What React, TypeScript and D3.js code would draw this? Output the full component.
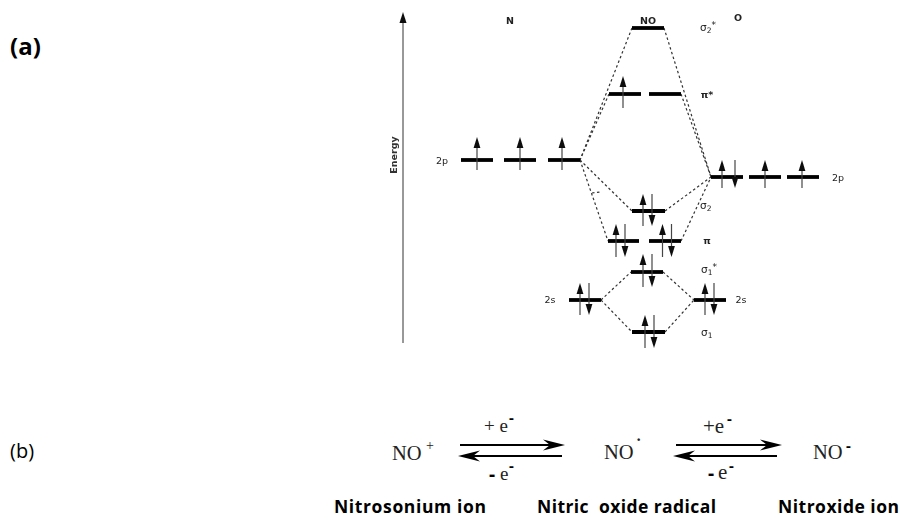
import React from "react";
import * as d3 from "d3";

// Orbital levels: centre column, energy, occupancy
const levelNames = ["N2p1","N2p2","N2p3","sigma2star","piStar1","piStar2","O2p1","O2p2","O2p3","sigma2","pi1","pi2","sigma1star","N2s","O2s","sigma1"];
const levelColumns = [477,520,564,648,625,665,727,765,803,648.5,623.5,665,647,585,710,648.5];
const levelEnergies = [190,190,190,322,256,256,173,173,173,139,109,109,78,50,50,18];
const levelWidths = [32,32,32,32,32,32,32,32,32,33,31,32,32,32,32,33];
const upColumns = [477,520,562,null,623,null,722,765,802,643,616,662.5,643,580,705,645];
const downColumns = [null,null,null,null,null,null,735,null,null,652,625,671.5,652,589,714,654];
const spanTop = [213,213,213,0,274,0,190,190,190,156,126,126,96,67,67,35];
const spanBottom = [180,180,180,0,242,0,162,162,162,124,93,93,63,35,35,2];

// Correlation lines [x1, energy1, x2, energy2]
const correlationLines = [
  [632,322,580,190],[664,322,711,173],[609,256,580,190],[681,256,711,173],
  [580,190,632,139],[665,139,711,173],[580,190,608,109],[681,109,711,173],
  [592,157,600,158],[601,50,631,78],[663,78,694,50],[601,50,632,18],[665,18,694,50],
];

const columnLabels = [
  ["N",510,330,"700"],["NO",648,330,"700"],["O",738,333,"700"],
  ["2p",442,190,"400"],["2p",838,173,"400"],["2s",550,51,"400"],["2s",741,51,"400"],
  ["π*",707,256,"700"],["π",707,110,"700"],
];
const sigmaLabels = [["σ","2","*",700,322],["σ","2","",700,144],["σ","1","*",701,80],["σ","1","",701,17]];

const equilibriumSpans = [[460,565,458,562],[676,782,673,777]];
const speciesNames = ["Nitrosonium ion","Nitric  oxide radical","Nitroxide ion"];
const speciesStarts = [334,537,778];
const speciesLengths = [152,179,121];

const x = d3.scaleLinear().domain([0,900]).range([0,900]);
const y = d3.scaleLinear().domain([0,350]).range([350,0]);
const INK = "#111";

export default function App() {
  const line = d3.line();
  const ah = (px:number, tip:number, dir:number, hw=3.5, h=11) =>
    line([[x(px),tip],[x(px)+hw,tip+dir*h],[x(px)-hw,tip+dir*h]])+"Z";
  const barb = (tipX:number, py:number, dir:number) =>
    `M${tipX},${py} L${tipX-dir*22},${py-5.5} L${tipX-dir*15},${py} L${tipX-dir*22},${py+5.5}Z`;
  const dia = "'DejaVu Sans', sans-serif";
  const serif = "'Liberation Serif', serif";
  const supFont = "'Open Sans', sans-serif";
  return (
    <svg width={900} height={520} viewBox="0 0 900 520" style={{position:"absolute",left:0,top:0,background:"#fff"}}>
      <defs>
        <filter id="soft" x="380" y="0" width="500" height="360" filterUnits="userSpaceOnUse">
          <feGaussianBlur stdDeviation="0.55"/>
        </filter>
      </defs>
      <text x={10} y={55} fontFamily="'Open Sans', sans-serif" fontWeight={700} fontSize={24} fill="#000">(a)</text>
      <text x={10} y={458} fontFamily="'Open Sans', sans-serif" fontSize={20} fill="#000">(b)</text>

      <g filter="url(#soft)">
        <line x1={x(403)} x2={x(403)} y1={y(7)} y2={y(330)} stroke="#555" strokeWidth={1.2}/>
        <path d={ah(403,12,1,3.5,11)} fill={INK}/>
        <text transform={`translate(397,${y(195)}) rotate(-90)`} textAnchor="middle" fontFamily={dia} fontSize={9.5} fontWeight={700} fill="#333">Energy</text>

        {correlationLines.map((c,i)=>(
          <line key={i} x1={x(c[0])} y1={y(c[1])} x2={x(c[2])} y2={y(c[3])} stroke="#333" strokeWidth={1.2} strokeDasharray="2.5 2.5"/>
        ))}
        {levelNames.map((n,i)=>(
          <line key={n} x1={x(levelColumns[i]-levelWidths[i]/2)} x2={x(levelColumns[i]+levelWidths[i]/2)} y1={y(levelEnergies[i])} y2={y(levelEnergies[i])} stroke="#000" strokeWidth={3.8}/>
        ))}
        {levelNames.map((n,i)=>{
          const u=upColumns[i], d=downColumns[i];
          return (
            <g key={n}>
              {u!==null && <g>
                <line x1={x(u)} x2={x(u)} y1={y(spanBottom[i])} y2={y(spanTop[i])+5} stroke="#444" strokeWidth={1.2}/>
                <path d={ah(u,y(spanTop[i]),1,3.4,11)} fill={INK}/>
              </g>}
              {d!==null && <g>
                <line x1={x(d)} x2={x(d)} y1={y(spanTop[i])} y2={y(spanBottom[i])-5} stroke="#444" strokeWidth={1.2}/>
                <path d={ah(d,y(spanBottom[i]),-1,3.4,11)} fill={INK}/>
              </g>}
            </g>
          );
        })}
        {columnLabels.map((l,i)=>(
          <text key={i} x={x(l[1] as number)} y={y(l[2] as number)+3.5} textAnchor="middle" fontFamily={dia} fontSize={9.5} fontWeight={l[3] as string} fill="#222">{l[0] as string}</text>
        ))}
        {sigmaLabels.map((l,i)=>(
          <text key={i} x={x(l[3] as number)} y={y(l[4] as number)+3} fontFamily={dia} fontSize={10.5} fill="#222">{l[0]}
            <tspan fontSize={7.5} dy={2}>{l[1]}</tspan>
            {l[2] && <tspan fontSize={9} dy={-5}>{l[2]}</tspan>}
          </text>
        ))}
      </g>

      {equilibriumSpans.map((s,i)=>(
        <g key={i}>
          <line x1={x(s[0])} x2={x(s[1])-10} y1={445} y2={445} stroke="#000" strokeWidth={2}/>
          <path d={barb(x(s[1]),445,1)} fill="#000"/>
          <line x1={x(s[2])+10} x2={x(s[3])} y1={456} y2={456} stroke="#000" strokeWidth={2}/>
          <path d={barb(x(s[2]),456,-1)} fill="#000"/>
        </g>
      ))}
      <g fontFamily={serif} fill="#222">
        <text x={392} y={460} fontSize={20.5}>NO</text>
        <text x={426} y={450} fontSize={14}>+</text>
        <text x={604} y={459} fontSize={20.5}>NO</text>
        <text x={636} y={445} fontSize={16} fontWeight={700}>·</text>
        <text x={813} y={459} fontSize={20.5}>NO</text>
        <text x={484} y={432} fontSize={19}>+ e</text>
        <text x={703} y={433} fontSize={21}>+e</text>
        <text x={489} y={481} fontSize={19} fontFamily={supFont} fontWeight={700} fill="#000">-</text>
        <text x={500} y={480} fontSize={19}>e</text>
        <text x={708} y={480} fontSize={19} fontFamily={supFont} fontWeight={700} fill="#000">-</text>
        <text x={718} y={479} fontSize={21}>e</text>
        {[[509,423],[509,471],[727,424],[729,471],[846,451]].map((p,i)=>(
          <text key={i} x={p[0]} y={p[1]} fontSize={15} fontFamily={supFont} fontWeight={700} fill="#000">-</text>
        ))}
      </g>
      {speciesNames.map((n,i)=>(
        <text key={n} x={speciesStarts[i]} y={513} fontFamily="'Open Sans', sans-serif" fontWeight={700} fontSize={17.5} textLength={speciesLengths[i]} fill="#000" style={{whiteSpace:"pre"}}>{n}</text>
      ))}
    </svg>
  );
}
